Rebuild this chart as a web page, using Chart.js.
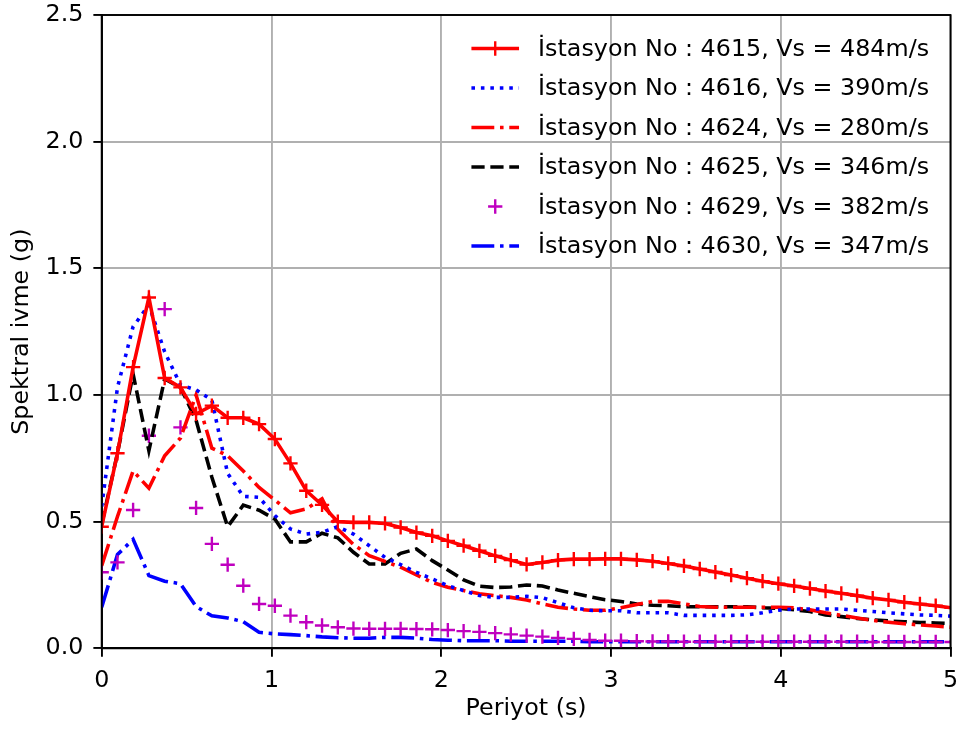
<!DOCTYPE html>
<html lang="tr">
<head>
    <meta charset="UTF-8">
    <title>Spektral ivme</title>
    <script src="https://cdn.jsdelivr.net/npm/chart.js"></script>
    <style>
        body { margin: 0; background: #fff; }
    </style>
</head>
<body>
    <div style="width: 960px; height: 729px;">
        <canvas id="myChart"></canvas>
    </div>

<script>
    // periyot degerleri (s)
    const periods = [0, 0.093, 0.185, 0.278, 0.371, 0.464, 0.556, 0.649, 0.742, 0.834,
        0.927, 1.020, 1.112, 1.205, 1.298, 1.391, 1.483, 1.576, 1.669, 1.761,
        1.854, 1.947, 2.039, 2.132, 2.225, 2.318, 2.410, 2.503, 2.596, 2.688,
        2.781, 2.874, 2.966, 3.059, 3.152, 3.245, 3.337, 3.430, 3.523, 3.615,
        3.708, 3.801, 3.893, 3.986, 4.079, 4.172, 4.264, 4.357, 4.450, 4.542,
        4.635, 4.728, 4.820, 4.913, 5.006];

    // istasyon spektrumlari (g)
    const s4615 = [0.48, 0.77, 1.11, 1.385, 1.067, 1.03, 0.925, 0.958, 0.91, 0.91,
        0.885, 0.826, 0.73, 0.622, 0.566, 0.5, 0.497, 0.497, 0.493, 0.477,
        0.457, 0.444, 0.424, 0.405, 0.385, 0.365, 0.348, 0.331, 0.339, 0.348,
        0.352, 0.352, 0.353, 0.353, 0.349, 0.344, 0.335, 0.325, 0.313, 0.301,
        0.289, 0.277, 0.265, 0.255, 0.246, 0.236, 0.226, 0.217, 0.208, 0.198,
        0.191, 0.182, 0.175, 0.168, 0.16];
    const s4616 = [0.56, 1.03, 1.27, 1.355, 1.17, 1.04, 1.02, 0.98, 0.69, 0.6,
        0.596, 0.524, 0.471, 0.451, 0.458, 0.48, 0.451, 0.405, 0.359, 0.33,
        0.3, 0.274, 0.247, 0.228, 0.208, 0.201, 0.201, 0.205, 0.2, 0.18,
        0.16, 0.15, 0.148, 0.148, 0.14, 0.14, 0.14, 0.13, 0.13, 0.13,
        0.13, 0.132, 0.14, 0.15, 0.155, 0.155, 0.155, 0.155, 0.15, 0.145,
        0.14, 0.136, 0.132, 0.13, 0.127];
    const s4624 = [0.326, 0.52, 0.7, 0.632, 0.76, 0.83, 1.0, 0.79, 0.76, 0.7,
        0.635, 0.585, 0.535, 0.55, 0.59, 0.47, 0.41, 0.366, 0.343, 0.32,
        0.29, 0.26, 0.241, 0.228, 0.215, 0.208, 0.201, 0.191, 0.175, 0.162,
        0.155, 0.15, 0.15, 0.16, 0.173, 0.185, 0.186, 0.175, 0.165, 0.162,
        0.162, 0.162, 0.162, 0.162, 0.16, 0.152, 0.14, 0.13, 0.12, 0.11,
        0.103, 0.097, 0.092, 0.088, 0.083];
    const s4625 = [0.49, 0.77, 1.083, 0.78, 1.063, 1.03, 0.9, 0.675, 0.48, 0.565,
        0.545, 0.51, 0.42, 0.42, 0.454, 0.436, 0.379, 0.333, 0.333, 0.375,
        0.392, 0.346, 0.309, 0.27, 0.245, 0.24, 0.242, 0.25, 0.246, 0.23,
        0.217, 0.204, 0.192, 0.185, 0.175, 0.17, 0.168, 0.164, 0.164, 0.164,
        0.164, 0.164, 0.16, 0.158, 0.152, 0.145, 0.132, 0.125, 0.118, 0.112,
        0.108, 0.105, 0.102, 0.1, 0.098];
    const s4629 = [0.3, 0.339, 0.546, 0.839, 1.339, 0.872, 0.554, 0.412, 0.33, 0.247,
        0.175, 0.168, 0.129, 0.103, 0.09, 0.083, 0.078, 0.077, 0.077, 0.077,
        0.076, 0.075, 0.072, 0.068, 0.065, 0.06, 0.055, 0.05, 0.046, 0.041,
        0.037, 0.033, 0.03, 0.03, 0.028, 0.027, 0.027, 0.026, 0.026, 0.026,
        0.026, 0.026, 0.026, 0.026, 0.026, 0.026, 0.026, 0.026, 0.026, 0.025,
        0.025, 0.025, 0.025, 0.025, 0.025];
    const s4630 = [0.162, 0.37, 0.43, 0.287, 0.265, 0.255, 0.165, 0.128, 0.12, 0.105,
        0.063, 0.057, 0.054, 0.05, 0.045, 0.042, 0.04, 0.04, 0.043, 0.043,
        0.04, 0.035, 0.032, 0.03, 0.03, 0.03, 0.028, 0.028, 0.028, 0.028,
        0.028, 0.026, 0.026, 0.026, 0.026, 0.026, 0.026, 0.026, 0.026, 0.026,
        0.026, 0.026, 0.026, 0.026, 0.026, 0.026, 0.026, 0.026, 0.026, 0.026,
        0.026, 0.026, 0.026, 0.026, 0.026];

    const labels = ['İstasyon No : 4615, Vs = 484m/s', 'İstasyon No : 4616, Vs = 390m/s',
        'İstasyon No : 4624, Vs = 280m/s', 'İstasyon No : 4625, Vs = 346m/s',
        'İstasyon No : 4629, Vs = 382m/s', 'İstasyon No : 4630, Vs = 347m/s'];
    const yTicks = [0, 0.5, 1.0, 1.5, 2.0, 2.5];

    // matplotlib olcusu: 1pt = 171.4/72 px
    const PT = 171.4 / 72;
    const LW = 1.5 * PT;
    const FONT = 'DejaVu Sans';
    const FS = 10 * PT;

    function f_pts(arr){
        return periods.map(function(t, i){ return {x: t, y: arr[i]}; });
    }

    function f_line(label, arr, color, dash){
        return {
            label: label,
            data: f_pts(arr),
            borderColor: color,
            backgroundColor: color,
            borderWidth: LW,
            borderDash: dash,
            pointRadius: 0,
            pointHoverRadius: 0,
            fill: false,
            tension: 0,
            clip: 0
        };
    }

    const dotted = [1 * LW, 1.65 * LW];
    const dashed = [3.7 * LW, 1.6 * LW];
    const dashdot = [6.4 * LW, 1.6 * LW, 1 * LW, 1.6 * LW];

    const ds0 = f_line(labels[0], s4615, '#ff0000', []);
    ds0.pointStyle = 'cross';
    ds0.pointRadius = 3 * PT;
    ds0.pointBorderWidth = 1 * PT;
    ds0.pointBorderColor = '#ff0000';

    const ds4 = f_line(labels[4], s4629, '#bf00bf', []);
    ds4.showLine = false;
    ds4.pointStyle = 'cross';
    ds4.pointRadius = 3 * PT;
    ds4.pointBorderWidth = 1 * PT;
    ds4.pointBorderColor = '#bf00bf';

    const datasets = [
        ds0,
        f_line(labels[1], s4616, '#0000ff', dotted),
        f_line(labels[2], s4624, '#ff0000', dashdot),
        f_line(labels[3], s4625, '#000000', dashed),
        ds4,
        f_line(labels[5], s4630, '#0000ff', dashdot)
    ];

    // cerceve (ust ve sag kenar dahil)
    const framePlugin = {
        id: 'frame',
        afterDatasetsDraw: function(chart){
            const a = chart.chartArea;
            const ctx = chart.ctx;
            ctx.save();
            ctx.strokeStyle = '#000';
            ctx.lineWidth = 0.8 * PT;
            ctx.setLineDash([]);
            ctx.strokeRect(a.left, a.top, a.right - a.left, a.bottom - a.top);
            ctx.restore();
        }
    };

    function f_plus(ctx, x, y, r){
        ctx.beginPath();
        ctx.moveTo(x - r, y); ctx.lineTo(x + r, y);
        ctx.moveTo(x, y - r); ctx.lineTo(x, y + r);
        ctx.stroke();
    }

    // lejant: matplotlib gibi sag ust kose, cercevesiz
    const legendPlugin = {
        id: 'mplLegend',
        afterDraw: function(chart){
            const a = chart.chartArea;
            const ctx = chart.ctx;
            ctx.save();
            ctx.font = FS + 'px "' + FONT + '"';
            let maxW = 0;
            labels.forEach(function(t){ maxW = Math.max(maxW, ctx.measureText(t).width); });
            const textRight = a.right - 0.9 * FS;
            const textLeft = textRight - maxW;
            const hRight = textLeft - 0.8 * FS;
            const hLeft = hRight - 2 * FS;
            const rowH = 39.5;
            let y = a.top + 33.5;
            chart.data.datasets.forEach(function(d, i){
                ctx.strokeStyle = d.borderColor;
                if (d.showLine !== false) {
                    ctx.lineWidth = d.borderWidth;
                    ctx.setLineDash(d.borderDash || []);
                    ctx.beginPath();
                    ctx.moveTo(hLeft, y);
                    ctx.lineTo(hRight, y);
                    ctx.stroke();
                }
                ctx.setLineDash([]);
                if (d.pointStyle === 'cross') {
                    ctx.strokeStyle = d.pointBorderColor;
                    ctx.lineWidth = d.pointBorderWidth;
                    f_plus(ctx, (hLeft + hRight) / 2, y, d.pointRadius);
                }
                ctx.fillStyle = '#000';
                ctx.textAlign = 'left';
                ctx.textBaseline = 'middle';
                ctx.fillText(d.label, textLeft, y + 1);
                y += rowH;
            });
            ctx.restore();
        }
    };

    // eksen boyutlarini sabitle, etiket tasmasi icin bosluk birakma
    function f_fitX(s){
        s.height = 80.7;
        s.paddingLeft = 0; s.paddingRight = 0;
    }
    function f_fitY(s){
        s.width = 101.7;
        s.paddingTop = 0; s.paddingBottom = 0;
    }

    const ctx = document.getElementById('myChart').getContext('2d');
    const myChart = new Chart(ctx, {
        type: 'line',
        data: { datasets: datasets },
        plugins: [framePlugin, legendPlugin],
        options: {
            responsive: true,
            maintainAspectRatio: false,
            animation: false,
            devicePixelRatio: 1,
            layout: { padding: { left: 0, right: 8.3, top: 15, bottom: 0 } },
            plugins: {
                legend: { display: false },
                tooltip: { enabled: false }
            },
            scales: {
                x: {
                    type: 'linear',
                    min: 0,
                    max: 5,
                    afterFit: f_fitX,
                    ticks: {
                        stepSize: 1,
                        color: '#000',
                        padding: 10,
                        font: { family: FONT, size: FS },
                        callback: function(v){ return v; }
                    },
                    grid: {
                        color: '#b0b0b0',
                        lineWidth: 0.8 * PT,
                        tickColor: '#000',
                        tickLength: 3.5 * PT,
                        tickWidth: 0.8 * PT
                    },
                    border: { display: true, color: '#000', width: 0.8 * PT },
                    title: {
                        display: true,
                        text: 'Periyot (s)',
                        color: '#000',
                        font: { family: FONT, size: FS },
                        padding: { top: 0, bottom: 6 }
                    }
                },
                y: {
                    min: 0,
                    max: 2.5,
                    afterFit: f_fitY,
                    afterBuildTicks: function(s){
                        s.ticks = yTicks.map(function(v){ return {value: v}; });
                    },
                    ticks: {
                        color: '#000',
                        padding: 10,
                        font: { family: FONT, size: FS },
                        callback: function(v){ return v.toFixed(1); }
                    },
                    grid: {
                        color: '#b0b0b0',
                        lineWidth: 0.8 * PT,
                        tickColor: '#000',
                        tickLength: 3.5 * PT,
                        tickWidth: 0.8 * PT
                    },
                    border: { display: true, color: '#000', width: 0.8 * PT },
                    title: {
                        display: true,
                        text: 'Spektral ivme (g)',
                        color: '#000',
                        font: { family: FONT, size: FS },
                        padding: { top: 8, bottom: 0 }
                    }
                }
            }
        }
    });
</script>
</body>
</html>
